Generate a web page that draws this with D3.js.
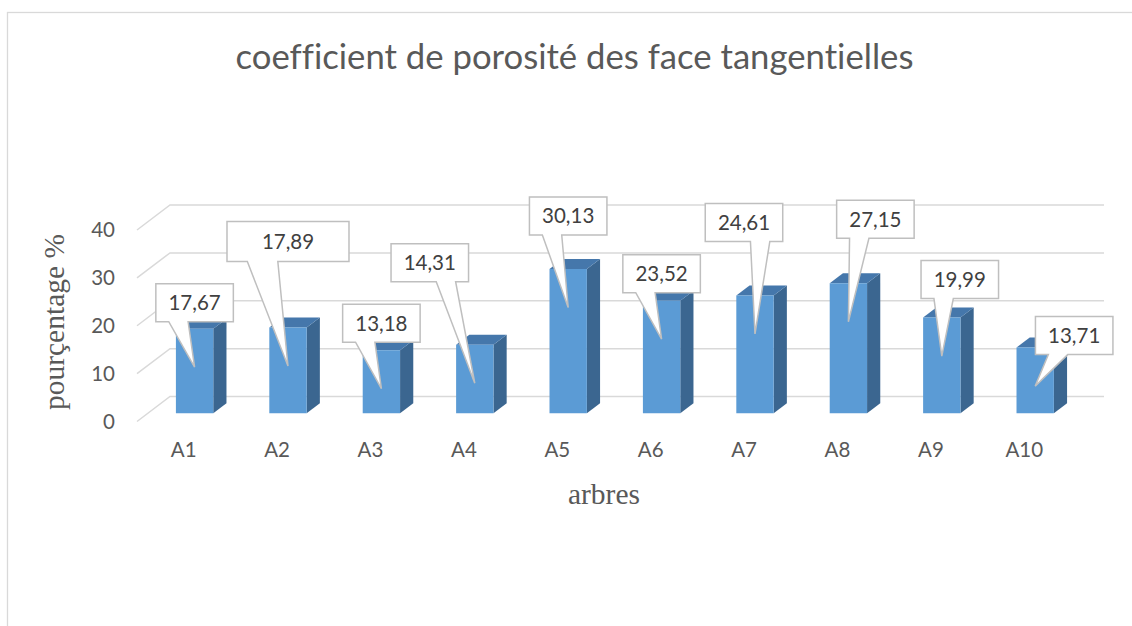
<!DOCTYPE html>
<html>
<head>
<meta charset="utf-8">
<script src="https://cdn.jsdelivr.net/npm/d3@7"></script>
<style>
  body { margin: 0; background: #fff; }
  svg { display: block; }
  text { font-variant-ligatures: none; }
  .tick-label { font-family: Lato, "Open Sans", sans-serif; fill: #595959; font-size: 20.5px; }
  .serif-label { font-family: "Liberation Serif", "DejaVu Serif", serif; fill: #595959; font-size: 29.5px; }
</style>
</head>
<body>
<div id="vis"></div>
<script>
// data
var categories = ['A1', 'A2', 'A3', 'A4', 'A5', 'A6', 'A7', 'A8', 'A9', 'A10'];
var values = [17.67, 17.89, 13.18, 14.31, 30.13, 23.52, 24.61, 27.15, 19.99, 13.71];
var valueLabels = ['17,67', '17,89', '13,18', '14,31', '30,13', '23,52', '24,61', '27,15', '19,99', '13,71'];
var yTicks = [0, 10, 20, 30, 40];

// callout layout: box centre offset from the bar's front top, and box size
var calloutOffsets = [[0, -26], [0, -86], [0, -27], [-45, -82], [0, -53], [0, -27], [-11, -73], [27, -64], [18, -38], [39, -12]];
var calloutSizes = [[77.5, 38], [122, 40], [77.5, 38], [77.5, 38], [77.5, 38], [77.5, 38], [77.5, 38], [77.5, 38], [77.5, 38], [77.5, 38]];

var width = 1132;
var height = 626;

// oblique depth of the plot box (back wall offset)
var depthX = 33;
var depthY = -25;
var barZ0 = 0.33, barZ1 = 0.73;

var svg = d3.select('#vis')
            .append('svg')
            .attr('width', width)
            .attr('height', height);

// chart border
svg.append('rect')
   .attr('x', 7.5).attr('y', 12.5)
   .attr('width', 1200).attr('height', 700)
   .attr('fill', 'none')
   .attr('stroke', '#d9d9d9')
   .attr('stroke-width', 1.3);

svg.append('text')
   .attr('x', 574.5)
   .attr('y', 69)
   .attr('text-anchor', 'middle')
   .style('font-family', 'Lato, "Open Sans", sans-serif')
   .style('font-size', '34.7px')
   .style('fill', '#595959')
   .text('coefficient de porosité des face tangentielles');

var xScale = d3.scaleBand()
               .domain(categories)
               .range([137, 1071])
               .paddingInner(0);

var yScale = d3.scaleLinear()
               .domain([0, 40])
               .range([421.5, 230]);

function proj(x, v, z) {
    return [x + z * depthX, yScale(v) + z * depthY];
}

// gridlines: left side diagonal + back wall line
var grid = svg.append('g').attr('class', 'grid');
yTicks.forEach(function(t) {
    var p0 = proj(xScale.range()[0], t, 0);
    var p1 = proj(xScale.range()[0], t, 1);
    var p2 = proj(xScale.range()[1], t, 1);
    grid.append('path')
        .attr('d', 'M' + p0 + 'L' + p1 + 'L' + p2)
        .attr('fill', 'none')
        .attr('stroke', '#d9d9d9')
        .attr('stroke-width', 1.5);
});

// y tick labels
svg.selectAll('.ytick')
   .data(yTicks)
   .enter()
   .append('text')
   .attr('class', 'tick-label ytick')
   .attr('x', 115)
   .attr('y', function(d) { return yScale(d); })
   .attr('dy', '0.36em')
   .attr('text-anchor', 'end')
   .text(function(d) { return d; });

// category labels
svg.selectAll('.xtick')
   .data(categories)
   .enter()
   .append('text')
   .attr('class', 'tick-label xtick')
   .attr('x', function(d) { return xScale(d) + xScale.bandwidth() / 2; })
   .attr('y', 457)
   .attr('text-anchor', 'middle')
   .text(function(d) { return d; });

// axis titles
svg.append('text')
   .attr('class', 'serif-label')
   .attr('transform', 'translate(64, 322) rotate(-90)')
   .attr('text-anchor', 'middle')
   .text('pourçentage %');

svg.append('text')
   .attr('class', 'serif-label')
   .attr('x', 604)
   .attr('y', 504)
   .attr('text-anchor', 'middle')
   .text('arbres');

// bars
var barW = xScale.bandwidth() * 0.4;
var bars = svg.append('g').attr('class', 'bars');

values.forEach(function(v, i) {
    var xl = xScale(categories[i]) + (xScale.bandwidth() - barW) / 2;
    var xr = xl + barW;
    var fbl = proj(xl, 0, barZ0), fbr = proj(xr, 0, barZ0);
    var ftl = proj(xl, v, barZ0), ftr = proj(xr, v, barZ0);
    var btl = proj(xl, v, barZ1), btr = proj(xr, v, barZ1);
    var bbr = proj(xr, 0, barZ1);
    var g = bars.append('g');
    // side
    g.append('path')
     .attr('d', 'M' + fbr + 'L' + ftr + 'L' + btr + 'L' + bbr + 'Z')
     .attr('fill', '#3b6690');
    // top
    g.append('path')
     .attr('d', 'M' + ftl + 'L' + ftr + 'L' + btr + 'L' + btl + 'Z')
     .attr('fill', '#4577ab');
    // front
    g.append('path')
     .attr('d', 'M' + fbl + 'L' + ftl + 'L' + ftr + 'L' + fbr + 'Z')
     .attr('fill', '#5b9bd5');
});

// callout shape like Excel's wedgeRectCallout
function calloutPath(l, t, w, h, xPos, yPos) {
    var r = l + w, b = t + h;
    var dxPos = xPos - (l + w / 2);
    var dyPos = yPos - (t + h / 2);
    var dz = Math.abs(dyPos) - Math.abs(dxPos * h / w);
    var x1 = l + w * (dxPos > 0 ? 7 : 2) / 12;
    var x2 = l + w * (dxPos > 0 ? 10 : 5) / 12;
    var y1 = t + h * (dyPos > 0 ? 7 : 2) / 12;
    var y2 = t + h * (dyPos > 0 ? 10 : 5) / 12;
    var tip = xPos + ',' + yPos;
    if (dz > 0 && dyPos > 0) {
        return 'M' + l + ',' + t + 'L' + r + ',' + t + 'L' + r + ',' + b + 'L' + x2 + ',' + b + 'L' + tip + 'L' + x1 + ',' + b + 'L' + l + ',' + b + 'Z';
    } else if (dz > 0) {
        return 'M' + l + ',' + t + 'L' + x1 + ',' + t + 'L' + tip + 'L' + x2 + ',' + t + 'L' + r + ',' + t + 'L' + r + ',' + b + 'L' + l + ',' + b + 'Z';
    } else if (dxPos > 0) {
        return 'M' + l + ',' + t + 'L' + r + ',' + t + 'L' + r + ',' + y1 + 'L' + tip + 'L' + r + ',' + y2 + 'L' + r + ',' + b + 'L' + l + ',' + b + 'Z';
    }
    return 'M' + l + ',' + t + 'L' + r + ',' + t + 'L' + r + ',' + b + 'L' + l + ',' + b + 'L' + l + ',' + y2 + 'L' + tip + 'L' + l + ',' + y1 + 'Z';
}

var labels = svg.append('g').attr('class', 'labels');
values.forEach(function(v, i) {
    var cx = xScale(categories[i]) + xScale.bandwidth() / 2;
    var top = proj(cx, v, barZ0);
    var tipX = top[0], tipY = top[1] + 38.5;
    var w = calloutSizes[i][0], h = calloutSizes[i][1];
    var bx = top[0] + calloutOffsets[i][0], by = top[1] + calloutOffsets[i][1];
    labels.append('path')
          .attr('d', calloutPath(bx - w / 2, by - h / 2, w, h, tipX, tipY))
          .attr('fill', '#ffffff')
          .attr('stroke', '#bfbfbf')
          .attr('stroke-width', 1.5);
    labels.append('text')
          .attr('class', 'tick-label')
          .attr('x', bx)
          .attr('y', by)
          .attr('dy', '0.36em')
          .attr('text-anchor', 'middle')
          .style('fill', '#404040')
          .text(valueLabels[i]);
});
</script>
</body>
</html>
